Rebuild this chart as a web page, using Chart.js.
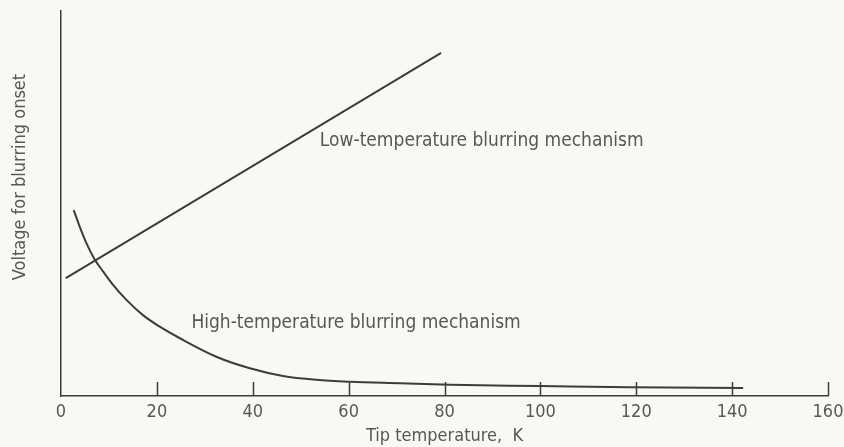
<!DOCTYPE html>
<html>
<head>
<meta charset="utf-8">
<script src="https://cdn.jsdelivr.net/npm/chart.js@4/dist/chart.umd.min.js"></script>
<style>
  html, body { margin: 0; padding: 0; background: #f8f8f7; }
  #wrap { width: 844px; height: 447px; position: relative; }
</style>
</head>
<body>
<div id="wrap"><canvas id="blurChart"></canvas></div>
<script>
// Tip temperature (K) and voltage for blurring onset (arbitrary units, 0-100)
var lowTemp = [1, 79.3];
var lowVolt = [30.6, 89.1];

var highTemp = [2.65, 3.9, 5.3, 7.0, 8.8, 10.9, 13.7, 17.1, 20.6, 24.8, 32.4, 39.4, 46.3, 53.3, 60.3, 70.7, 81.2, 100, 118.7, 142.3];
var highVolt = [48.3, 44.0, 39.7, 35.5, 32.3, 28.8, 24.9, 21.0, 18.0, 15.0, 10.2, 7.2, 5.2, 4.2, 3.7, 3.3, 2.9, 2.6, 2.3, 2.1];

var xTicks = [0, 20, 40, 60, 80, 100, 120, 140, 160];

// curve labels: text, temperature, voltage (left edge, middle)
var curveLabels = ['Low-temperature blurring mechanism', 'High-temperature blurring mechanism'];
var labelTemp = [54.0, 27.2];
var labelVolt = [66.3, 19.0];

var xTitle = 'Tip temperature,  K';
var yTitle = 'Voltage for blurring onset';

var inkColor = '#3c3c3c';
var textColor = '#575757';
var fontFamily = '"DejaVu Sans Condensed", "Liberation Sans Narrow", sans-serif';

function toPoints(xs, ys) {
    return xs.map(function(x, i) { return { x: x, y: ys[i] }; });
}

// ticks pointing up into the plot, plus the free text
var extrasPlugin = {
    id: 'extras',
    afterDraw: function(chart) {
        var ctx = chart.ctx;
        var xs = chart.scales.x;
        var ys = chart.scales.y;
        var bottom = chart.chartArea.bottom;
        ctx.save();
        ctx.strokeStyle = inkColor;
        ctx.lineWidth = 1.5;
        xTicks.forEach(function(v) {
            if (v === 0) return;
            var px = Math.round(xs.getPixelForValue(v)) + 0.5;
            ctx.beginPath();
            ctx.moveTo(px, bottom);
            ctx.lineTo(px, bottom - 14);
            ctx.stroke();
        });

        ctx.fillStyle = textColor;
        ctx.font = '19px ' + fontFamily;
        ctx.textBaseline = 'middle';
        ctx.textAlign = 'left';
        curveLabels.forEach(function(t, i) {
            ctx.fillText(t, xs.getPixelForValue(labelTemp[i]), ys.getPixelForValue(labelVolt[i]));
        });

        // y-axis title, rotated
        ctx.font = '18px ' + fontFamily;
        ctx.translate(20, 177);
        ctx.rotate(-Math.PI / 2);
        ctx.textAlign = 'center';
        ctx.fillText(yTitle, 0, 0);
        ctx.restore();
    }
};

var ctx = document.getElementById('blurChart').getContext('2d');
var blurChart = new Chart(ctx, {
    type: 'line',
    data: {
        datasets: [
            {
                label: 'Low-temperature',
                data: toPoints(lowTemp, lowVolt),
                borderColor: inkColor,
                borderWidth: 2,
                pointRadius: 0,
                fill: false
            },
            {
                label: 'High-temperature',
                data: toPoints(highTemp, highVolt),
                borderColor: inkColor,
                borderWidth: 2,
                pointRadius: 0,
                cubicInterpolationMode: 'monotone',
                fill: false
            }
        ]
    },
    options: {
        responsive: true,
        maintainAspectRatio: false,
        animation: false,
        layout: { padding: { top: 11, right: 16, left: 0, bottom: 0 } },
        plugins: {
            legend: { display: false },
            tooltip: { enabled: false }
        },
        scales: {
            x: {
                type: 'linear',
                min: 0,
                max: 160,
                afterFit: function(scale) {
                    scale.height = 51;
                    scale.paddingLeft = 0;
                    scale.paddingRight = 0;
                },
                afterBuildTicks: function(scale) {
                    scale.ticks = xTicks.map(function(v) { return { value: v }; });
                },
                grid: { display: true, drawOnChartArea: false, drawTicks: false },
                border: { display: true, color: inkColor, width: 1.5 },
                ticks: {
                    color: textColor,
                    padding: 6,
                    maxRotation: 0,
                    font: { family: fontFamily, size: 18 }
                },
                title: {
                    display: true,
                    text: xTitle,
                    color: textColor,
                    padding: { top: 0, bottom: 0 },
                    font: { family: fontFamily, size: 18 }
                }
            },
            y: {
                type: 'linear',
                min: 0,
                max: 100,
                afterFit: function(scale) { scale.width = 61; },
                grid: { display: true, drawOnChartArea: false, drawTicks: false },
                border: { display: true, color: inkColor, width: 1.5 },
                ticks: { display: false }
            }
        }
    },
    plugins: [extrasPlugin]
});
</script>
</body>
</html>
